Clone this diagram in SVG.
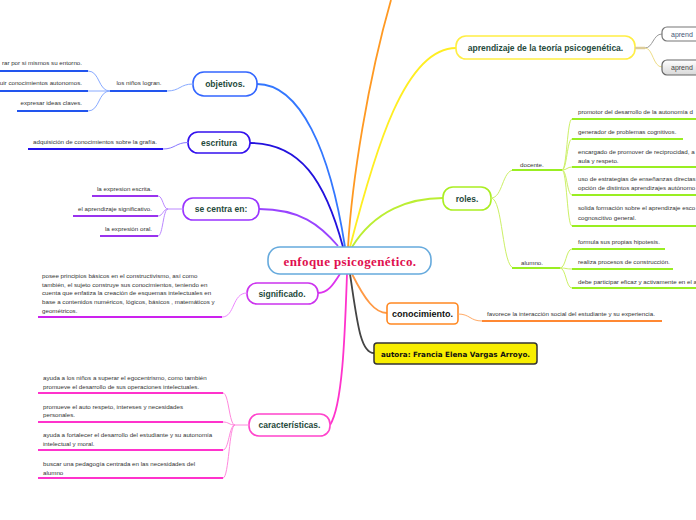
<svg xmlns="http://www.w3.org/2000/svg" width="696" height="520" viewBox="0 0 696 520">
<defs>
<linearGradient id="gg" x1="0" y1="0" x2="0" y2="1"><stop offset="0" stop-color="#ffffff"/><stop offset="1" stop-color="#d8d8d8"/></linearGradient>
<style>
.lbl{font-family:"Liberation Sans",Arial,sans-serif;font-weight:bold;font-size:8.5px;fill:#1f4a3c;text-anchor:middle;dominant-baseline:central}
.sm{font-family:"Liberation Sans",Arial,sans-serif;font-size:6.2px;fill:#333}
.e{text-anchor:end}
.node{fill:#fff;stroke-width:1.6}
.ul{fill:none;stroke-width:2}
.br{fill:none;stroke-width:1}
.cn{fill:none;stroke-width:1.8}
</style>
</defs>
<rect width="696" height="520" fill="#fff"/>
<g id="connectors">
<path class="cn" d="M348,247 C352,180 368,80 391,0" stroke="#ff9922"/>
<path class="cn" d="M350,247 C375,150 405,48 456,48" stroke="#ffee22"/>
<path class="cn" d="M352,247 C375,210 410,198 443,198" stroke="#bbee33"/>
<path class="cn" d="M345,247 C330,150 300,84 257,84" stroke="#3377ff"/>
<path class="cn" d="M343,247 C325,180 300,143 250,143" stroke="#2211dd"/>
<path class="cn" d="M338,246 C320,225 300,209 259,209" stroke="#9944ff"/>
<path class="cn" d="M340,274 C333,285 328,293 318,293" stroke="#dd33ee"/>
<path class="cn" d="M347,274 C345,330 343,405 330,425" stroke="#ff33cc"/>
<path class="cn" d="M350,274 C357,320 360,353 374,353" stroke="#444"/>
<path class="cn" d="M352,274 C365,300 375,313 387,313" stroke="#ff9944"/>
</g>
<g id="center">
<rect x="268" y="247" width="163" height="27" rx="12" class="node" stroke="#66aadd"/>
<text x="350" y="261" style="font-family:'Liberation Serif',serif;font-weight:bold;font-size:13px;fill:#e0104f;text-anchor:middle;dominant-baseline:central;letter-spacing:0.4px">enfoque psicogenético.</text>
</g>
<g id="objetivos">
<rect x="193" y="72" width="64" height="24" rx="11" class="node" stroke="#3366ff"/>
<text x="225" y="84" class="lbl">objetivos.</text>
<path class="br" d="M193,84 C180,84 180,91 167,91" stroke="#88aaff"/>
<path class="ul" d="M110,91 H167" stroke="#2255ee"/>
<text x="139" y="85" class="sm" text-anchor="middle">los niños logran.</text>
<path class="br" d="M110,91 C98,91 100,71 88,71 M110,91 H88 M110,91 C98,91 100,111 88,111" stroke="#88aaff"/>
<path class="ul" d="M0,71 H88 M0,91 H88 M17,111 H88" stroke="#2255ee"/>
<text x="82" y="65" class="sm e">rar por si mismos su entorno.</text>
<text x="82" y="85" class="sm e">uir conocimientos autonomos.</text>
<text x="82" y="105" class="sm e">expresar ideas claves.</text>
</g>
<g id="escritura">
<rect x="188" y="132" width="62" height="21" rx="10" class="node" stroke="#3311ee"/>
<text x="219" y="142.5" class="lbl">escritura</text>
<path class="br" d="M188,142.5 C176,142.5 175,149 163,149" stroke="#8877ff"/>
<path class="ul" d="M28,149 H163" stroke="#2211ee"/>
<text x="95" y="144" class="sm" text-anchor="middle">adquisición de conocimientos sobre la grafía.</text>
</g>
<g id="secentra">
<rect x="183" y="198" width="76" height="22" rx="10" class="node" stroke="#9933ff"/>
<text x="221" y="209" class="lbl">se centra en:</text>
<path class="br" d="M183,209 H168 C163,209 163,196 158,196 M168,209 C163,209 163,216 158,216 M168,209 C163,209 163,236 158,236" stroke="#bb88ff"/>
<path class="ul" d="M92,196 H158 M73,216 H158 M100,236 H158" stroke="#9933ee"/>
<text x="152" y="191" class="sm e">la expresion escrita.</text>
<text x="152" y="211" class="sm e">el aprendizaje significativo.</text>
<text x="152" y="231" class="sm e">la expresión oral.</text>
</g>
<g id="significado">
<rect x="247" y="283" width="71" height="21" rx="10" class="node" stroke="#cc33ee"/>
<text x="282" y="294" class="lbl">significado.</text>
<path class="br" d="M247,293 C232,293 235,317 222,317" stroke="#ee88ff"/>
<path class="ul" d="M38,317 H222" stroke="#cc22ee"/>
<text class="sm"><tspan x="42" y="278">posee principios básicos en el constructivismo, así como</tspan><tspan x="42" y="286.7">también, el sujeto construye sus conocimientos, teniendo en</tspan><tspan x="42" y="295.4">cuenta que enfatiza la creación de esquemas intelectuales en</tspan><tspan x="42" y="304.1">base a contenidos numéricos, lógicos,  básicos , matemáticos y</tspan><tspan x="42" y="312.8">geométricos.</tspan></text>
</g>
<g id="caracteristicas">
<rect x="249" y="414" width="81" height="22" rx="10" class="node" stroke="#ff44cc"/>
<text x="289.5" y="425" class="lbl">características.</text>
<path class="br" d="M249,425 H235 C229,425 229,393 223,393 M235,425 C229,425 229,422 223,422 M235,425 C229,425 229,450 223,450 M235,425 C229,425 229,478 223,478" stroke="#ff88dd"/>
<path class="ul" d="M38,393 H223 M38,422 H223 M38,450 H223 M38,478 H223" stroke="#ff33cc"/>
<text class="sm"><tspan x="43" y="380">ayuda  a los niños a superar el egocentrismo, como también</tspan><tspan x="43" y="388.5">promueve el desarrollo de sus operaciones intelectuales.</tspan></text>
<text class="sm"><tspan x="43" y="408.5">promueve el auto respeto, intereses y necesidades</tspan><tspan x="43" y="417">personales.</tspan></text>
<text class="sm"><tspan x="43" y="437">ayuda a fortalecer el desarrollo del estudiante y su autonomía</tspan><tspan x="43" y="445.5">intelectual y moral.</tspan></text>
<text class="sm"><tspan x="43" y="466">buscar una pedagogía centrada en las necesidades del</tspan><tspan x="43" y="474.5">alumno</tspan></text>
</g>
<g id="aprendizaje">
<rect x="456" y="36" width="179" height="23" rx="10" class="node" stroke="#ffee44"/>
<text x="545.5" y="47.5" class="lbl">aprendizaje de la teoría psicogenética.</text>
<path d="M635,48 H645" stroke="#ddcc99" stroke-width="2.5"/>
<path class="br" d="M645,48 C653,48 653,34 662,34" stroke="#999"/>
<path class="br" d="M645,48 C653,48 653,67 662,67" stroke="#eedd88"/>
</g>
<g id="aprend1">
<rect x="662" y="27" width="60" height="14" rx="5" fill="#fff" stroke="#777" stroke-width="1.2"/>
<text x="671" y="36.5" style="font-family:'Liberation Sans',Arial,sans-serif;font-size:7px;fill:#445577">aprend</text>
</g>
<g id="aprend2">
<rect x="662" y="60" width="60" height="15" rx="5" fill="url(#gg)" stroke="#666" stroke-width="1.2"/>
<text x="671" y="70" style="font-family:'Liberation Sans',Arial,sans-serif;font-size:7px;fill:#444">aprend</text>
</g>
<g id="roles">
<rect x="443" y="187" width="48" height="23" rx="10" class="node" stroke="#aaee22"/>
<text x="467" y="198.5" class="lbl">roles.</text>
<path class="br" d="M491,198 C503,198 502,170 514,170 M491,198 C503,198 502,268 514,268" stroke="#ccf066"/>
<path class="ul" d="M512,170 H562 M512,268 H560" stroke="#99ee22"/>
<text x="520" y="167" class="sm">docente.</text>
<text x="521" y="265" class="sm">alumno.</text>
<path class="br" d="M562,170 C567,170 567,119 572,119 M562,170 C567,170 567,139 572,139 M562,170 C567,170 567,167 572,167 M562,170 C567,170 567,195 572,195 M562,170 C567,170 567,226 572,226" stroke="#ccf066"/>
<path class="ul" d="M572,119 H696 M572,139 H683 M572,167 H696 M572,195 H696 M572,226 H696" stroke="#99ee22"/>
<text x="578" y="113.5" class="sm">promotor del desarrollo de la autonomía d</text>
<text x="578" y="134" class="sm">generador de problemas cognitivos.</text>
<text class="sm"><tspan x="578" y="153.5">encargado de promover de reciprocidad, a</tspan><tspan x="578" y="162.5">aula y respeto.</tspan></text>
<text class="sm"><tspan x="578" y="181">uso de estrategias de enseñanzas directas</tspan><tspan x="578" y="190">opción de distintos aprendizajes autónomo</tspan></text>
<text class="sm"><tspan x="578" y="210">solida formación sobre el aprendizaje esco</tspan><tspan x="578" y="219.5">cognoscitivo general.</tspan></text>
<path class="br" d="M560,268 C566,268 566,249 572,249 M560,268 C566,268 566,269 572,269 M560,268 C566,268 566,288 572,288" stroke="#ccf066"/>
<path class="ul" d="M572,249 H665 M572,269 H673 M572,288 H696" stroke="#99ee22"/>
<text x="578" y="244" class="sm">formula sus propias hipotesis.</text>
<text x="578" y="264" class="sm">realiza procesos de construcción.</text>
<text x="578" y="284" class="sm">debe participar eficaz y activamente en el a</text>
</g>
<g id="conocimiento">
<rect x="387" y="303" width="71" height="21" rx="4" class="node" stroke="#ff8822"/>
<text x="422.5" y="314" class="lbl" style="fill:#111;font-size:9px">conocimiento.</text>
<path class="br" d="M458,314 C470,314 470,321 482,321" stroke="#ffaa66"/>
<path class="ul" d="M482,321 H662" stroke="#ff8833"/>
<text x="487" y="316" class="sm">favorece la interacción social del estudiante y su experiencia.</text>
</g>
<g id="autora">
<rect x="374" y="343" width="163" height="21" rx="3" fill="#f8ee00" stroke="#333" stroke-width="1.5"/>
<text x="455.5" y="354" style="font-family:'DejaVu Sans',Verdana,sans-serif;font-weight:bold;font-size:7.2px;fill:#111;text-anchor:middle;dominant-baseline:central">autora: Francia Elena Vargas Arroyo.</text>
</g>
</svg>
